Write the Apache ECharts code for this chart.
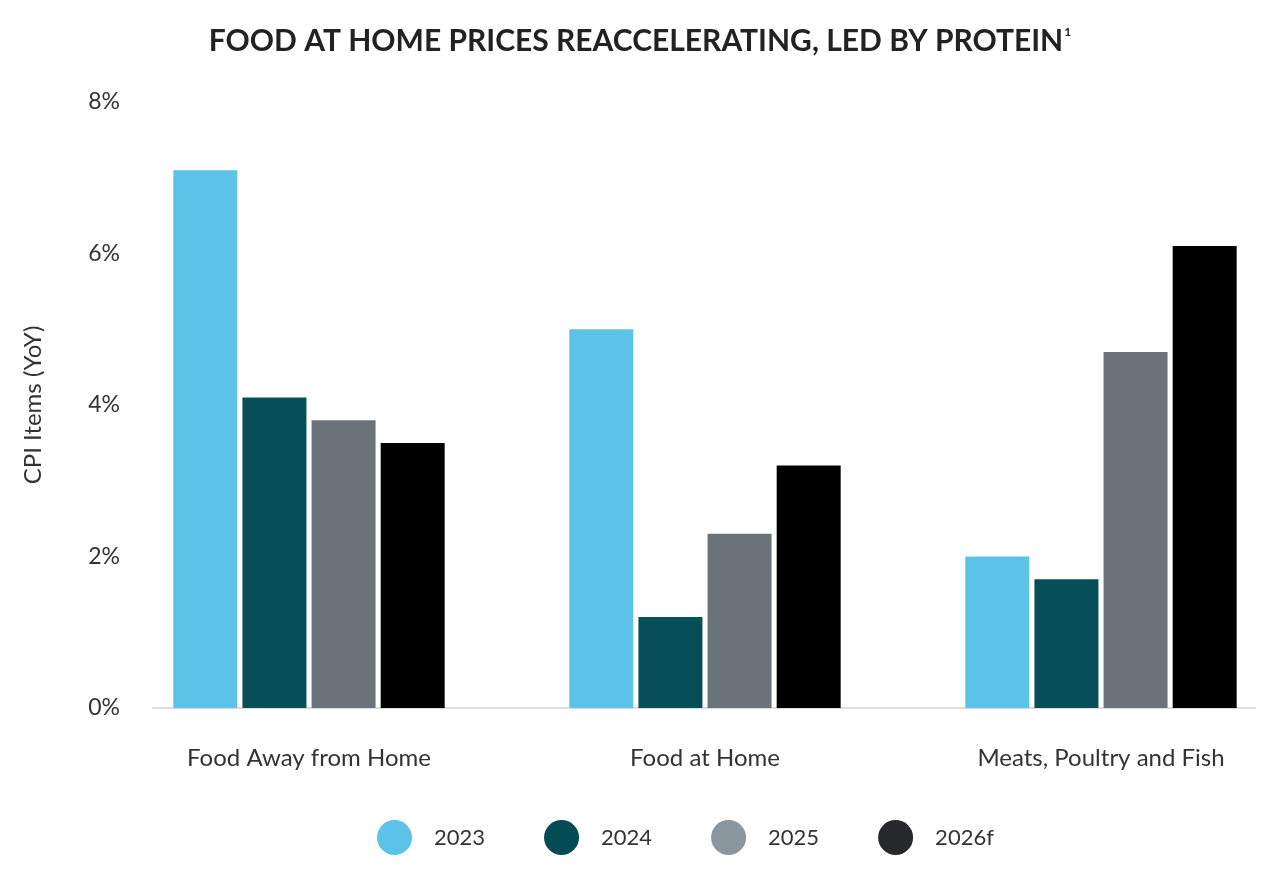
<!DOCTYPE html>
<html>
<head>
<meta charset="utf-8">
<script src="https://cdn.jsdelivr.net/npm/echarts@6/dist/echarts.min.js"></script>
<style>
html,body{margin:0;padding:0;background:#fff;}
#chart{width:1280px;height:892px;}
</style>
</head>
<body>
<div id="chart"></div>
<script>
const categories = ['Food Away from Home', 'Food at Home', 'Meats, Poultry and Fish'];
const seriesNames = ['2023', '2024', '2025', '2026f'];
const values2023 = [7.1, 5.0, 2.0];
const values2024 = [4.1, 1.2, 1.7];
const values2025 = [3.8, 2.3, 4.7];
const values2026f = [3.5, 3.2, 6.1];
const yTicks = [0, 2, 4, 6, 8];

const barColors = ['#5cc2e7', '#074f58', '#6b737a', '#000000'];
const legendColors = ['#5cc2e7', '#044c55', '#8a969e', '#26282b'];
const allValues = [values2023, values2024, values2025, values2026f];

const FONT = 'Lato, "Open Sans", sans-serif';
const chart = echarts.init(document.getElementById('chart'));

chart.setOption({
  backgroundColor: '#ffffff',
  animation: false,
  title: {
    text: '{t|FOOD AT HOME PRICES REACCELERATING, LED BY PROTEIN}{s|1}',
    left: 'center',
    top: 21,
    textStyle: {
      rich: {
        t: { fontFamily: FONT, fontSize: 30, fontWeight: 'bold', color: '#222222' },
        s: { fontFamily: FONT, fontSize: 12, fontWeight: 'bold', color: '#222222', verticalAlign: 'top', padding: [0, 0, 14, 1] }
      }
    }
  },
  legend: {
    left: 372,
    top: 815,
    itemWidth: 35,
    itemHeight: 35,
    itemGap: 59,
    icon: 'circle',
    textStyle: { fontFamily: FONT, fontSize: 22, color: '#333333', padding: [0, 0, 0, 17] },
    data: seriesNames.map((n, i) => ({ name: n, itemStyle: { color: legendColors[i] } }))
  },
  grid: [
    { left: 309, width: 792, top: 102, bottom: 184 },
    { left: 153, right: 25, top: 102, bottom: 184 }
  ],
  xAxis: [
    {
      type: 'category',
      gridIndex: 0,
      data: categories,
      boundaryGap: false,
      axisLine: { show: false },
      axisTick: { show: false },
      axisLabel: { fontFamily: FONT, fontSize: 24, color: '#333333', margin: 38 }
    },
    {
      type: 'value',
      gridIndex: 1,
      min: 0, max: 1,
      axisLine: { show: true, onZero: false, lineStyle: { color: '#dddddd', width: 2 } },
      axisTick: { show: false },
      axisLabel: { show: false },
      splitLine: { show: false }
    }
  ],
  yAxis: [
    {
      type: 'value',
      gridIndex: 0,
      min: yTicks[0], max: yTicks[yTicks.length - 1], interval: 2,
      axisLine: { show: false }, axisTick: { show: false },
      axisLabel: { show: false }, splitLine: { show: false }
    },
    {
      type: 'value',
      gridIndex: 1,
      min: yTicks[0], max: yTicks[yTicks.length - 1], interval: 2,
      name: 'CPI Items (YoY)',
      nameLocation: 'middle',
      nameGap: 108,
      nameTextStyle: { fontFamily: FONT, fontSize: 24, color: '#333333' },
      axisLine: { show: false }, axisTick: { show: false },
      splitLine: { show: false },
      axisLabel: { fontFamily: FONT, fontSize: 23, color: '#333333', margin: 33, formatter: '{value}%' }
    }
  ],
  series: seriesNames.map((n, i) => ({
    name: n,
    type: 'bar',
    xAxisIndex: 0,
    yAxisIndex: 0,
    clip: false,
    barWidth: 64,
    barGap: '8%',
    itemStyle: { color: barColors[i] },
    data: allValues[i]
  }))
});
</script>
</body>
</html>
